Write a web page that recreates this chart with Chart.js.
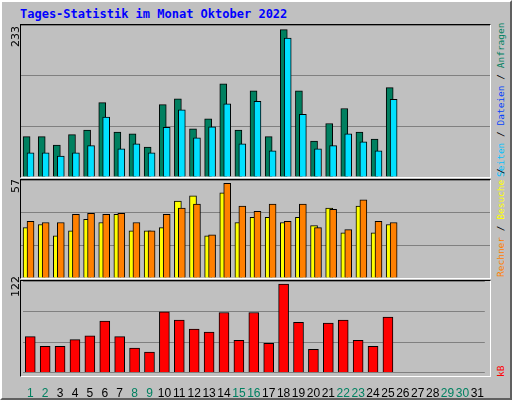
<!DOCTYPE html>
<html><head><meta charset="utf-8">
<script src="https://cdn.jsdelivr.net/npm/chart.js@4"></script>
<style>
body{margin:0;background:#fff}
#frame{position:absolute;left:0;top:0;width:508px;height:396px;background:#c0c0c0;border-top:2px solid #fff;border-left:2px solid #fff;border-right:2px solid #606060;border-bottom:2px solid #606060}
.panel{position:absolute;left:20px;width:471px;border-top:1px solid #000;border-left:1px solid #000;border-right:1px solid #fff;border-bottom:1px solid #fff;box-sizing:border-box}
canvas{position:absolute}
#title{position:absolute;left:20px;top:7px;font:bold 12px "DejaVu Sans Mono";color:#0000ff}
.rot{position:absolute;font:9.5px "DejaVu Sans Mono";white-space:nowrap;transform-origin:0 0;transform:rotate(-90deg)}
.lft{font:11px "DejaVu Sans"}
</style></head><body>
<div id="frame"></div>
<div id="title">Tages-Statistik im Monat Oktober 2022</div>
<div class="panel" style="top:24px;height:154px"></div>
<div class="panel" style="top:179px;height:100px"></div>
<div class="panel" style="top:280px;height:97px"></div>
<canvas id="c1" style="left:21px;top:25px"></canvas>
<canvas id="c2" style="left:21px;top:180px"></canvas>
<canvas id="c3" style="left:21px;top:281px"></canvas>
<div class="rot lft" style="left:9px;top:47px">233</div>
<div class="rot lft" style="left:9px;top:193px">57</div>
<div class="rot lft" style="left:9px;top:297px">122</div>
<div class="rot" style="left:495px;top:177px"><span style="color:#00c0ff">Seiten</span> / <span style="color:#0040ff">Dateien</span> / <span style="color:#008060">Anfragen</span></div>
<div class="rot" style="left:495px;top:277px"><span style="color:#ff8000">Rechner</span> / <span style="color:#ffff00">Besuche</span> / </div>
<div class="rot" style="left:495px;top:377px"><span style="color:#ff0000">kB</span></div>
<script>
const days = Array.from({length: 31}, (_, i) => i + 1);
const weekend = [1, 2, 8, 9, 15, 16, 22, 23, 29, 30];
const hits  = [62, 62, 49, 65, 72, 114, 69, 66, 46, 111, 120, 74, 89, 143, 72, 132, 62, 226, 132, 55, 82, 105, 69, 58, 137];
const files = [37, 37, 32, 37, 48, 92, 43, 51, 37, 76, 103, 60, 77, 112, 51, 116, 40, 213, 96, 43, 48, 66, 54, 40, 119];
const visits = [29.3, 31.1, 24.5, 27.5, 34.1, 32.3, 37.1, 27.5, 27.5, 29.3, 44.8, 47.8, 24.5, 49.6, 32.3, 35.3, 35.3, 32.3, 35.3, 30.5, 40.6, 26.3, 41.8, 26.3, 31.1];
const sites  = [32.9, 32.3, 32.3, 37.1, 37.6, 37.1, 37.6, 32.3, 27.5, 37.1, 40.6, 43, 25.1, 55, 41.8, 38.8, 43, 32.9, 43, 29.3, 40, 28.1, 45.4, 32.9, 32.3];
const kbytes = [48, 35, 35, 44, 49, 68.5, 48, 32.5, 27.4, 81, 70, 58, 54, 80, 43, 80, 39, 118, 67, 31, 66, 70, 43, 35, 74];
const maxes = [233, 57, 122];

function pts(vals, shift) { return vals.map((v, i) => ({x: days[i] + shift, y: v})); }
function ds(vals, shift, color, w, order) {
  return {data: pts(vals, shift), backgroundColor: color, borderColor: '#000', borderWidth: 1,
    barThickness: w, grouped: false, order: order};
}
function opts(max, showX) {
  return {
    responsive: false, animation: false, events: [],
    layout: {padding: 0},
    plugins: {legend: {display: false}, tooltip: {enabled: false}},
    scales: {
      x: {type: 'linear', min: 0.5, max: 31.5, offset: false, display: showX,
        afterBuildTicks: s => { s.ticks = days.map(d => ({value: d})); },
        grid: {display: false}, border: {display: false},
        ticks: {autoSkip: false, maxRotation: 0, padding: 6,
          font: {family: 'Liberation Sans', size: 12},
          color: c => weekend.includes(c.tick.value) ? '#008060' : '#000'}},
      y: {min: 0, max: max,
        afterBuildTicks: s => { s.ticks = [0, 1, 2, 3].map(k => ({value: max * k / 3})); },
        grid: {color: '#808080', drawTicks: false, lineWidth: 1},
        border: {display: false}, ticks: {display: false}}
    }
  };
}
function make(id, w, h, datasets, max, showX) {
  const el = document.getElementById(id);
  el.width = w; el.height = h;
  new Chart(el, {type: 'bar', data: {datasets}, options: opts(max, showX)});
}
make('c1', 469, 152, [ds(files, 0.13, '#00e0ff', 7, 0), ds(hits, -0.13, '#008060', 7, 1)], maxes[0], false);
make('c2', 469, 98, [ds(sites, 0.13, '#ff8000', 7, 0), ds(visits, -0.13, '#ffff00', 7, 1)], maxes[1], false);
make('c3', 469, 126, [ds(kbytes, 0, '#ff0000', 10, 0)], maxes[2], true);
</script>
</body></html>
